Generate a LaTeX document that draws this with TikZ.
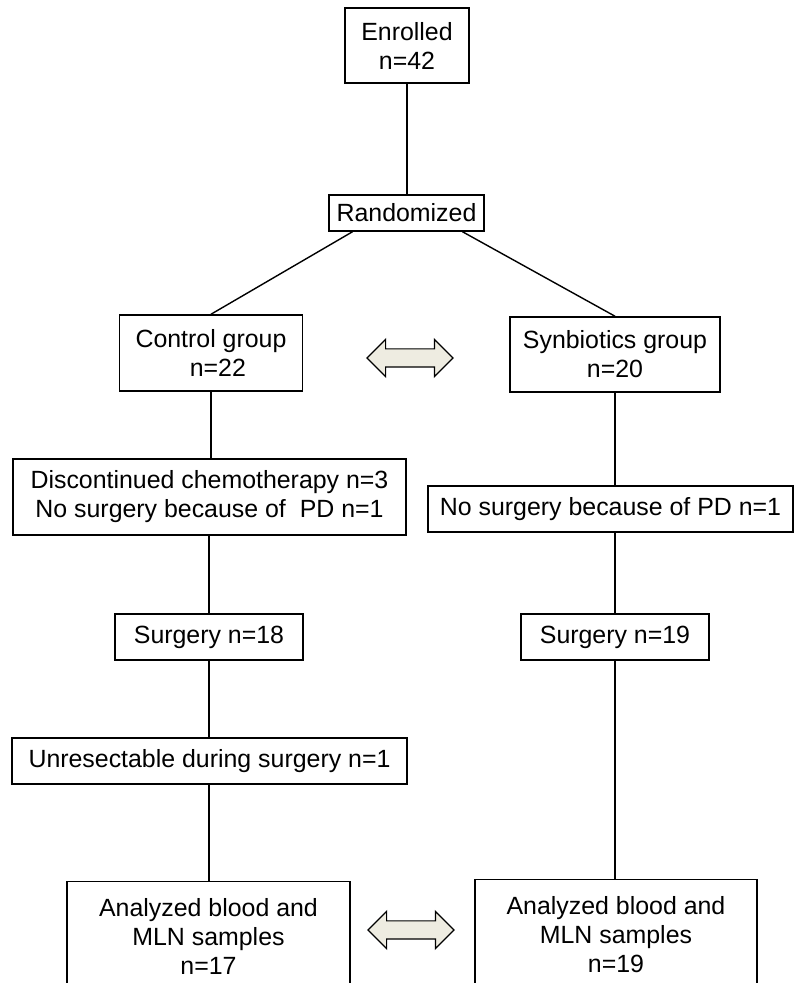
\documentclass[tikz,border=0pt]{standalone}
\usepackage{fontspec}
\setmainfont{Liberation Sans}
\usetikzlibrary{positioning,shapes.arrows,calc}
\definecolor{arrowfill}{HTML}{EEECE1}

\tikzset{
  box/.style={draw, line width=1.5pt, inner sep=0pt, align=center,
    font=\fontsize{24.9}{29}\selectfont},
  link/.style={line width=1.4pt},
  twoway/.style={double arrow, draw, line width=1.2pt, fill=arrowfill,
    inner sep=0pt, text height=17pt, text depth=0pt,
    minimum height=86pt, minimum width=37pt,
    double arrow head extend=9.5pt}
}

\begin{document}
\begin{tikzpicture}[x=1pt,y=1pt]
    \useasboundingbox (0,0) rectangle (796,983);

    % Define nodes
    \node[box, minimum width=124pt, minimum height=75pt]  (enr)   at (407,937.5)  {Enrolled\\n=42};
    \node[box, minimum width=155pt, minimum height=36pt]  (rand)  at (406.5,770)  {Randomized};
    \node[box, minimum width=183pt, minimum height=76pt]  (ctrl)  at (211,630)    {Control group\\\hspace*{0.55em}n=22};
    \node[box, minimum width=210pt, minimum height=75pt]  (syn)   at (615,628.5)  {Synbiotics group\\n=20};
    \node[box, minimum width=393pt, minimum height=76pt]  (disc)  at (209.5,486)  {Discontinued chemotherapy n=3\\No surgery because of\ \ PD n=1};
    \node[box, minimum width=365pt, minimum height=46pt]  (nosurg) at (610.5,474) {No surgery because of PD n=1};
    \node[box, minimum width=188pt, minimum height=46pt]  (surgC) at (209,346)    {Surgery n=18};
    \node[box, minimum width=188pt, minimum height=46pt]  (surgS) at (615,346)    {Surgery n=19};
    \node[box, minimum width=395pt, minimum height=46pt]  (unres) at (209.5,222)  {Unresectable during surgery n=1};
    \node[box, anchor=north, minimum width=283pt, minimum height=110pt] (anaC) at (208.5,102) {Analyzed blood and\\MLN samples\\n=17};
    \node[box, anchor=north, minimum width=282pt, minimum height=110pt] (anaS) at (616,104)   {Analyzed blood and\\MLN samples\\n=19};

    % comparison arrows
    \node[twoway] (cmp1) at (410,625) {};
    \node[twoway] (cmp2) at (411,53)  {};

    % Connect nodes
    \draw[link] (enr.south) -- (enr.south |- rand.north);
    \draw[link] ([xshift=-54pt]rand.south) -- (ctrl.north);
    \draw[link] ([xshift=56pt]rand.south) -- (syn.north);

    \draw[link] (ctrl.south) -- (ctrl.south |- disc.north);
    \draw[link] (surgC.north |- disc.south) -- (surgC.north);
    \draw[link] (surgC.south) -- (surgC.south |- unres.north);
    \draw[link] (surgC.south |- unres.south) -- (surgC.south |- anaC.north);

    \draw[link] (syn.south) -- (syn.south |- nosurg.north);
    \draw[link] (surgS.north |- nosurg.south) -- (surgS.north);
    \draw[link] (surgS.south) -- (surgS.south |- anaS.north);
\end{tikzpicture}
\end{document}
